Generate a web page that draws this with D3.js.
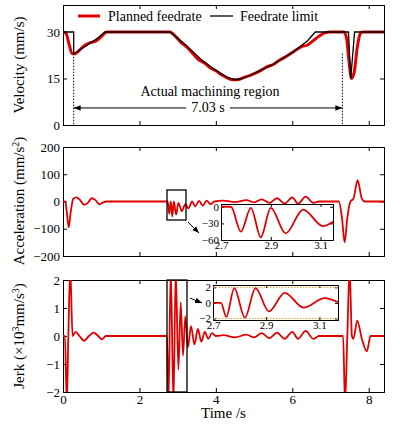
<!DOCTYPE html>
<html><head><meta charset="utf-8">
<script src="https://cdn.jsdelivr.net/npm/d3@7"></script>
<style>body{margin:0;background:#fff}text{font-family:"Liberation Serif",serif}</style>
</head><body>
<svg id="c" width="400" height="428"></svg>
<script>
// velocity (t, v)
var planned = [[0,30],[0.08,29.5],[0.16,26],[0.24,23],[0.32,23],[0.42,24],[0.55,25.5],[0.7,26.5],[0.85,27],[1.0,28.5],[1.15,30],[1.5,30],[2.8,30],[2.95,28.5],[3.1,26.5],[3.25,25],[3.4,23],[3.55,21],[3.7,20],[3.85,18.5],[4.0,17.5],[4.15,16.2],[4.3,15.2],[4.45,14.6],[4.6,14.7],[4.75,15.4],[4.9,16],[5.05,16.8],[5.2,17.8],[5.35,18.8],[5.5,19.5],[5.65,20.8],[5.8,21.8],[5.95,23],[6.1,24.2],[6.25,25.3],[6.4,25.8],[6.55,27.2],[6.7,28.6],[6.85,29.7],[7.0,30],[7.35,30],[7.42,28],[7.48,21],[7.55,15],[7.62,17],[7.7,25],[7.78,29.5],[7.85,30],[8.4,30]];
var limit = [[0,30],[0.28,30],[0.28,23],[0.6,25.5],[0.9,28],[1.1,30],[2.8,30],[3.2,26],[3.6,21.3],[4.0,17.6],[4.3,15.4],[4.5,14.6],[4.7,15],[5.0,16.6],[5.5,19.6],[6.0,23.4],[6.4,27.2],[6.6,30],[7.47,30],[7.53,15],[7.63,30],[8.4,30]];
// acceleration (t, a)
var accel = [[0,0],[0.06,0],[0.1,-40],[0.15,-95],[0.2,-40],[0.27,10],[0.35,15],[0.45,5],[0.55,-12],[0.65,-5],[0.75,12],[0.85,5],[0.95,-10],[1.05,-3],[1.15,0],[2.74,0],[2.78,-45],[2.82,0],[2.86,-55],[2.9,0],[2.96,-48],[3.02,-5],[3.11,-35],[3.2,-10],[3.28,-25],[3.38,0],[3.46,-18],[3.56,2],[3.66,-15],[3.76,3],[3.86,-10],[3.96,0],[4.2,3],[4.5,-2],[4.8,5],[5.0,-3],[5.2,8],[5.4,-5],[5.6,12],[5.8,-8],[6.0,15],[6.15,-8],[6.35,18],[6.55,-5],[6.7,0],[7.22,0],[7.3,-60],[7.37,-150],[7.44,-60],[7.52,0],[7.6,10],[7.71,78],[7.82,10],[7.9,0],[8.4,0]];
var accelZoom = [[2.7,0],[2.74,0],[2.78,-45],[2.82,-2],[2.86,-55],[2.9,-2],[2.96,-48],[3.03,-5],[3.11,-35],[3.15,-27]];
// jerk (t, j in 1e3)
var jerk = [[0,0],[0.05,0],[0.1,-2.4],[0.14,0],[0.19,2.4],[0.25,0],[0.33,0.15],[0.43,0],[0.55,-0.17],[0.68,0],[0.8,0.12],[0.92,0],[1.02,-0.12],[1.12,0],[2.72,0],[2.76,-2.4],[2.82,2.4],[2.89,-2.4],[2.95,2.3],[3.02,-1.2],[3.08,1.2],[3.14,-0.7],[3.2,0.7],[3.27,-0.4],[3.35,0.35],[3.44,-0.3],[3.53,0.25],[3.62,-0.2],[3.71,0.15],[3.8,-0.1],[3.9,0.1],[4.0,0],[4.2,0.03],[4.5,-0.05],[4.8,0.05],[5.0,-0.05],[5.2,0.1],[5.4,-0.08],[5.6,0.12],[5.8,-0.1],[6.0,0.15],[6.15,-0.1],[6.35,0.18],[6.55,-0.1],[6.7,0],[7.33,0],[7.38,-2.4],[7.44,0],[7.5,2.4],[7.56,0],[7.6,-0.1],[7.7,0.55],[7.82,-0.1],[7.95,-0.55],[8.05,0],[8.4,0]];
var jerkZoom = [[2.7,0],[2.73,0],[2.75,-1.8],[2.78,1.9],[2.82,-1.9],[2.86,1.9],[2.91,-1.1],[2.97,1.3],[3.04,-0.6],[3.12,0.6],[3.17,0.1]];

var xTicks = [0,2,4,6,8];
var vTicks = [0,15,30], aTicks = [-200,-100,0,100,200], jTicks = [-2,-1,0,1,2];
var red = "#e00000";

var svg = d3.select("#c");
var L = 63, R = 384;
var x = d3.scaleLinear().domain([0,8.4]).range([L,R]);

function panel(top, bot, ydom, yticks, id){
  var y = d3.scaleLinear().domain(ydom).range([bot,top]);
  var g = svg.append("g");
  g.append("defs").append("clipPath").attr("id",id).append("rect")
    .attr("x",L).attr("y",top).attr("width",R-L).attr("height",bot-top);
  g.append("g").attr("transform","translate(0,"+bot+")")
    .call(d3.axisBottom(x).tickValues(xTicks).tickSize(-4).tickFormat(id=="p3"?d3.format("d"):""));
  g.append("g").attr("transform","translate(0,"+top+")")
    .call(d3.axisTop(x).tickValues(xTicks).tickSize(-4).tickFormat(""));
  g.append("g").attr("transform","translate("+L+",0)")
    .call(d3.axisLeft(y).tickValues(yticks).tickSize(-4).tickFormat(d3.format("d")));
  g.append("g").attr("transform","translate("+R+",0)")
    .call(d3.axisRight(y).tickValues(yticks).tickSize(-4).tickFormat(""));
  g.selectAll(".domain").attr("stroke","#000");
  g.selectAll(".tick text").attr("font-size",13).attr("font-family","Liberation Serif").attr("fill","#000");
  g.selectAll(".tick line").attr("stroke","#000");
  var body = g.append("g").attr("clip-path","url(#"+id+")");
  return {y:y, body:body, g:g};
}
function line(xs, ys, curve){
  return d3.line().x(function(d){return xs(d[0]);}).y(function(d){return ys(d[1]);}).curve(curve);
}

// panel 1: velocity
var p1 = panel(5,125,[0,38.7],vTicks,"p1");
p1.body.append("path").datum(planned).attr("fill","none").attr("stroke",red).attr("stroke-width",3)
  .attr("d",line(x,p1.y,d3.curveMonotoneX));
p1.body.append("path").datum(limit).attr("fill","none").attr("stroke","#000").attr("stroke-width",1.3)
  .attr("d",line(x,p1.y,d3.curveLinear));
[0.28,7.31].forEach(function(t){
  p1.g.append("line").attr("x1",x(t)).attr("x2",x(t)).attr("y1",p1.y(23)).attr("y2",p1.y(0))
    .attr("stroke","#000").attr("stroke-dasharray","1.5,1.5");
});
var ay = p1.y(5.5), mid = (x(0.28)+x(7.31))/2;
svg.append("defs").append("marker").attr("id","ah").attr("viewBox","0 0 10 10").attr("refX",10).attr("refY",5)
  .attr("markerWidth",7).attr("markerHeight",7).attr("orient","auto-start-reverse")
  .append("path").attr("d","M0,1L10,5L0,9Z").attr("fill","#000");
p1.g.append("line").attr("x1",x(0.28)).attr("x2",mid-22).attr("y1",ay).attr("y2",ay).attr("stroke","#000").attr("marker-start","url(#ah)");
p1.g.append("line").attr("x1",mid+22).attr("x2",x(7.31)).attr("y1",ay).attr("y2",ay).attr("stroke","#000").attr("marker-end","url(#ah)");
p1.g.append("text").attr("x",mid).attr("y",ay+4.5).attr("text-anchor","middle").attr("font-size",14).text("7.03 s");
p1.g.append("text").attr("x",mid+2).attr("y",p1.y(10.5)+4).attr("text-anchor","middle").attr("font-size",14).text("Actual machining region");
// legend
p1.g.append("line").attr("x1",78).attr("x2",100).attr("y1",16).attr("y2",16).attr("stroke",red).attr("stroke-width",3);
p1.g.append("text").attr("x",108).attr("y",20.5).attr("font-size",14).text("Planned feedrate");
p1.g.append("line").attr("x1",210).attr("x2",233).attr("y1",16).attr("y2",16).attr("stroke","#000").attr("stroke-width",1.3);
p1.g.append("text").attr("x",240).attr("y",20.5).attr("font-size",14).text("Feedrate limit");

// panel 2: acceleration
var p2 = panel(147,256,[-200,200],aTicks,"p2");
p2.body.append("path").datum(accel).attr("fill","none").attr("stroke",red).attr("stroke-width",1.8)
  .attr("d",line(x,p2.y,d3.curveMonotoneX));
p2.g.append("rect").attr("x",167).attr("y",190).attr("width",19).attr("height",30).attr("fill","none").attr("stroke","#000").attr("stroke-width",1.3);
p2.g.append("line").attr("x1",188).attr("y1",222).attr("x2",199).attr("y2",233).attr("stroke","#000").attr("marker-end","url(#ah)");
function inset(x0,x1,y0,y1,xdom,ydom,yt,data,id,dotted){
  var ix = d3.scaleLinear().domain(xdom).range([x0,x1]);
  var iy = d3.scaleLinear().domain(ydom).range([y1,y0]);
  var g = svg.append("g");
  g.append("rect").attr("x",x0).attr("y",y0).attr("width",x1-x0).attr("height",y1-y0).attr("fill","#fff");
  g.append("defs").append("clipPath").attr("id",id).append("rect").attr("x",x0).attr("y",y0).attr("width",x1-x0).attr("height",y1-y0);
  g.append("g").attr("transform","translate(0,"+y1+")").call(d3.axisBottom(ix).tickValues([2.7,2.9,3.1]).tickSize(-3).tickPadding(1).tickFormat(d3.format(".1f")));
  g.append("g").attr("transform","translate(0,"+y0+")").call(d3.axisTop(ix).tickValues([2.7,2.9,3.1]).tickSize(-3).tickFormat(""));
  g.append("g").attr("transform","translate("+x0+",0)").call(d3.axisLeft(iy).tickValues(yt).tickSize(-3).tickPadding(2).tickFormat(d3.format("d")));
  g.append("g").attr("transform","translate("+x1+",0)").call(d3.axisRight(iy).tickValues(yt).tickSize(-3).tickFormat(""));
  g.selectAll(".domain").attr("stroke","#000");
  g.selectAll(".tick text").attr("font-size",11).attr("font-family","Liberation Serif").attr("fill","#000");
  var b = g.append("g").attr("clip-path","url(#"+id+")");
  if(dotted) [-2,2].forEach(function(v){
    b.append("line").attr("x1",x0).attr("x2",x1).attr("y1",iy(v)).attr("y2",iy(v)).attr("stroke","#e8a030").attr("stroke-dasharray","1.5,1.5");
  });
  b.append("path").datum(data).attr("fill","none").attr("stroke",red).attr("stroke-width",1.8)
    .attr("d",line(ix,iy,d3.curveMonotoneX));
}
inset(221,333,204,240,[2.7,3.15],[-60,5],[0,-30,-60],accelZoom,"i1",false);

// panel 3: jerk
var p3 = panel(280,392,[-2,2],jTicks,"p3");
p3.body.append("path").datum(jerk).attr("fill","none").attr("stroke",red).attr("stroke-width",1.8)
  .attr("d",line(x,p3.y,d3.curveMonotoneX));
p3.g.append("rect").attr("x",167).attr("y",280).attr("width",20).attr("height",112).attr("fill","none").attr("stroke","#000").attr("stroke-width",1.3);
p3.g.append("line").attr("x1",190).attr("y1",298).attr("x2",202).attr("y2",303).attr("stroke","#000").attr("marker-end","url(#ah)");
inset(213,338,285,320,[2.7,3.17],[-2.2,2.3],[2,0,-2],jerkZoom,"i2",true);

svg.append("text").attr("x",x(4.2)).attr("y",418).attr("text-anchor","middle").attr("font-size",15).text("Time /s");
function ylab(cy, parts){
  var t = svg.append("text").attr("transform","translate(24,"+cy+") rotate(-90)").attr("text-anchor","middle").attr("font-size",15);
  parts.forEach(function(p){
    var s = t.append("tspan").text(p[0]);
    if(p[1]) s.attr("baseline-shift","super").attr("font-size",10);
  });
}
ylab(65,[["Velocity (mm/s)"]]);
ylab(201,[["Acceleration (mm/s"],["2",1],[")"]]);
ylab(336,[["Jerk (×10"],["3",1],["mm/s"],["3",1],[")"]]);
</script>
</body></html>
